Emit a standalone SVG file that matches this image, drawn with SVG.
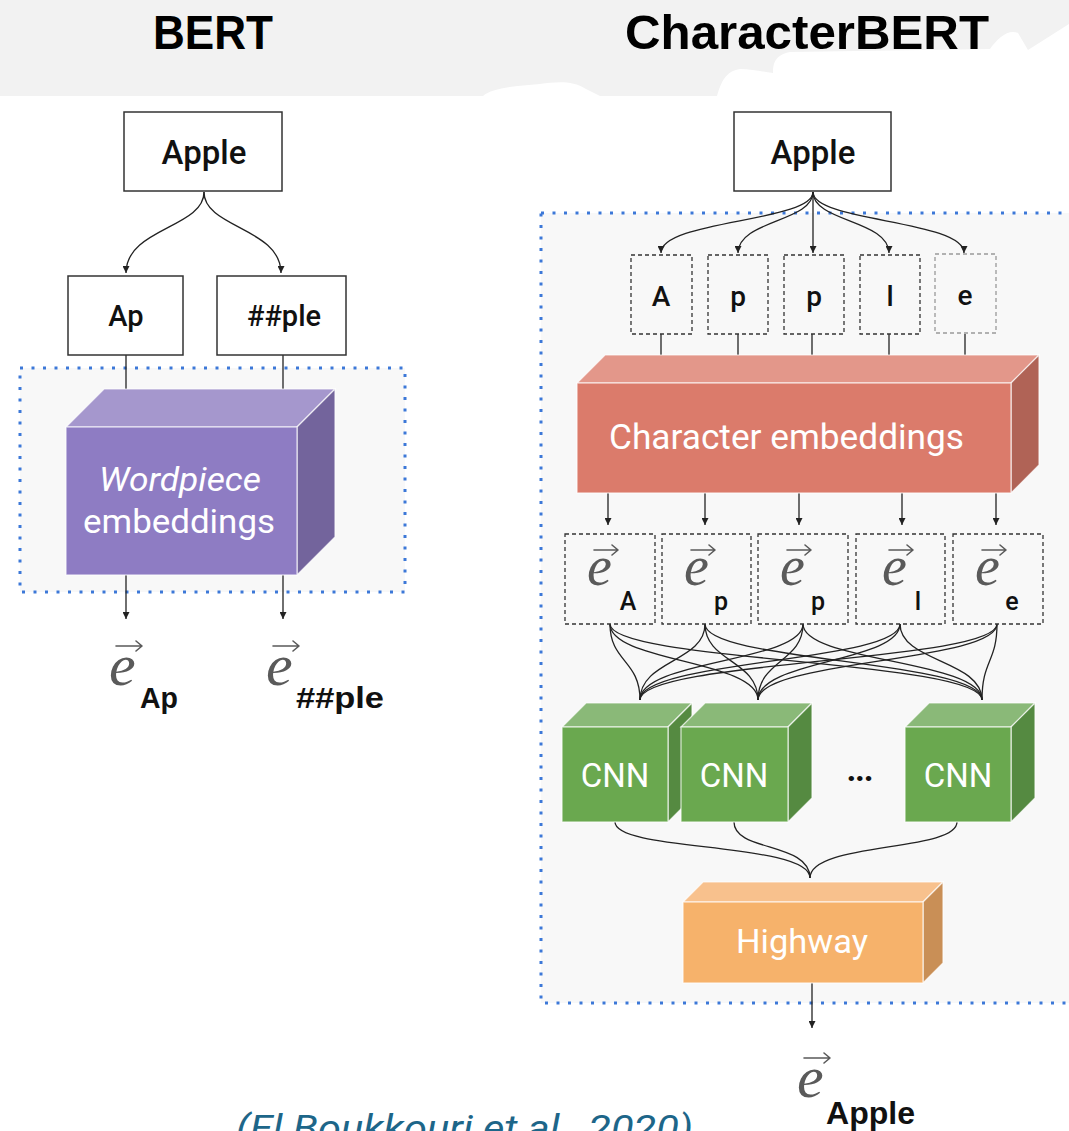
<svg xmlns="http://www.w3.org/2000/svg" width="1069" height="1131" viewBox="0 0 1069 1131">
  <defs>
    <marker id="ah" viewBox="0 0 10 10" refX="10" refY="5" markerWidth="7" markerHeight="7" markerUnits="userSpaceOnUse" orient="auto">
      <path d="M0,0 L10,5 L0,10 z" fill="#222"/>
    </marker>
    <style>
      .title { font-family: "Liberation Sans", Arial, sans-serif; font-weight: 700; font-size: 48px; fill: #000; }
      .box { fill: #fff; stroke: #333; stroke-width: 1.5; }
      .dash { fill: none; stroke: #333; stroke-width: 1.3; stroke-dasharray: 4 3; }
      .dash-light { fill: none; stroke: #999; stroke-width: 1.3; stroke-dasharray: 4 3; }
      .zone { fill: #f8f8f8; stroke: #3c78d8; stroke-width: 3; stroke-dasharray: 3 8.5; }
      .lbl { font-family: Roboto, "Liberation Sans", sans-serif; font-weight: 500; fill: #111; text-anchor: middle; }
      .wht { font-family: Roboto, "Liberation Sans", sans-serif; fill: #fff; }
      .sub { font-family: "Liberation Sans", Arial, sans-serif; font-weight: 700; fill: #111; }
      .vec { font-family: "Liberation Serif", "DejaVu Serif", serif; font-style: italic; fill: #5a5a5a; }
      .varr { fill: none; stroke: #5a5a5a; stroke-width: 1.6; stroke-linecap: round; stroke-linejoin: round; }
      .edge { fill: none; stroke: #222; stroke-width: 1.3; }
      .face { stroke: #fff; stroke-width: 1.2; stroke-opacity: 0.75; }
    </style>
  </defs>

  <!-- header band with torn lower edge -->
  <rect x="0" y="0" width="1069" height="96" fill="#f2f2f2"/>
  <path d="M483,96 C492,88 515,86 540,84 C556,82 572,80 586,89 L600,96 Z" fill="#fff"/>
  <path d="M717,96 C721,82 726,71 740,69 C752,69 764,72 773,73 C773,62 776,55 790,52 L990,49 C998,38 1008,29 1018,33 L1028,50 L1069,24 L1069,96 Z" fill="#fff"/>

  <text class="title" x="213" y="49" text-anchor="middle" textLength="120" lengthAdjust="spacingAndGlyphs">BERT</text>
  <text class="title" x="807" y="49" text-anchor="middle" textLength="364" lengthAdjust="spacingAndGlyphs">CharacterBERT</text>

  <!-- dotted module regions -->
  <rect class="zone" x="20" y="368" width="385" height="224"/>
  <rect class="zone" x="541" y="213" width="540" height="790"/>

  <!-- connectors -->
  <g id="connectors">
    <!-- BERT -->
    <path class="edge" d="M204,192 C204,228 126,228 126,273" marker-end="url(#ah)"/>
    <path class="edge" d="M204,192 C204,228 281,228 281,273" marker-end="url(#ah)"/>
    <line class="edge" x1="126" y1="355" x2="126" y2="389"/>
    <line class="edge" x1="283" y1="355" x2="283" y2="389"/>
    <line class="edge" x1="126" y1="575" x2="126" y2="619" marker-end="url(#ah)"/>
    <line class="edge" x1="283" y1="575" x2="283" y2="619" marker-end="url(#ah)"/>

    <!-- word to characters -->
    <path class="edge" d="M813,192 C813,222 661,220 661,253" marker-end="url(#ah)"/>
    <path class="edge" d="M813,192 C813,222 738,220 738,253" marker-end="url(#ah)"/>
    <path class="edge" d="M813,192 L813,253" marker-end="url(#ah)"/>
    <path class="edge" d="M813,192 C813,222 889,220 889,253" marker-end="url(#ah)"/>
    <path class="edge" d="M813,192 C813,222 964,220 964,253" marker-end="url(#ah)"/>

    <line class="edge" x1="661" y1="334" x2="661" y2="355"/>
    <line class="edge" x1="738" y1="334" x2="738" y2="355"/>
    <line class="edge" x1="812" y1="334" x2="812" y2="355"/>
    <line class="edge" x1="889" y1="334" x2="889" y2="355"/>
    <line class="edge" x1="965" y1="334" x2="965" y2="355"/>

    <line class="edge" x1="608" y1="493" x2="608" y2="525" marker-end="url(#ah)"/>
    <line class="edge" x1="705" y1="493" x2="705" y2="525" marker-end="url(#ah)"/>
    <line class="edge" x1="799" y1="493" x2="799" y2="525" marker-end="url(#ah)"/>
    <line class="edge" x1="902" y1="493" x2="902" y2="525" marker-end="url(#ah)"/>
    <line class="edge" x1="996" y1="493" x2="996" y2="525" marker-end="url(#ah)"/>

    <!-- every character vector feeds every CNN -->
    <path class="edge" d="M610,624 C610,662 640,660 640,700"/>
    <path class="edge" d="M610,624 C610,662 758,660 758,700"/>
    <path class="edge" d="M610,624 C610,662 982,660 982,700"/>
    <path class="edge" d="M705,624 C705,662 640,660 640,700"/>
    <path class="edge" d="M705,624 C705,662 758,660 758,700"/>
    <path class="edge" d="M705,624 C705,662 982,660 982,700"/>
    <path class="edge" d="M803,624 C803,662 640,660 640,700"/>
    <path class="edge" d="M803,624 C803,662 758,660 758,700"/>
    <path class="edge" d="M803,624 C803,662 982,660 982,700"/>
    <path class="edge" d="M900,624 C900,662 640,660 640,700"/>
    <path class="edge" d="M900,624 C900,662 758,660 758,700"/>
    <path class="edge" d="M900,624 C900,662 982,660 982,700"/>
    <path class="edge" d="M997,624 C997,662 640,660 640,700"/>
    <path class="edge" d="M997,624 C997,662 758,660 758,700"/>
    <path class="edge" d="M997,624 C997,662 982,660 982,700"/>

    <!-- CNNs to highway -->
    <path class="edge" d="M615,822 C615,852 810,842 810,878"/>
    <path class="edge" d="M734,822 C734,852 810,842 810,878"/>
    <path class="edge" d="M957,822 C957,852 810,842 810,878"/>

    <line class="edge" x1="812" y1="983" x2="812" y2="1028" marker-end="url(#ah)"/>
  </g>

  <!-- BERT nodes -->
  <g id="bert-word">
    <rect class="box" x="124" y="112" width="158" height="79"/>
    <text class="lbl" x="204" y="164" font-size="33">Apple</text>
  </g>
  <g id="bert-piece-ap">
    <rect class="box" x="68" y="276" width="115" height="79"/>
    <text class="lbl" x="126" y="326" font-size="29">Ap</text>
  </g>
  <g id="bert-piece-ple">
    <rect class="box" x="217" y="276" width="129" height="79"/>
    <text class="lbl" x="284" y="326" font-size="29">##ple</text>
  </g>
  <g id="wordpiece-embeddings">
    <polygon class="face" points="66,427 104,389 335,389 297,427" fill="#a597cd"/>
    <polygon class="face" points="297,427 335,389 335,537 297,575" fill="#73649c"/>
    <rect class="face" x="66" y="427" width="231" height="148" fill="#8e7cc3"/>
    <text class="wht" x="180" y="491" font-size="34" font-style="italic" text-anchor="middle" textLength="162" lengthAdjust="spacingAndGlyphs">Wordpiece</text>
    <text class="wht" x="179" y="533" font-size="34" text-anchor="middle" textLength="192" lengthAdjust="spacingAndGlyphs">embeddings</text>
  </g>
  <g id="bert-out-ap">
    <text class="vec" x="109" y="685" font-size="60">e</text>
    <path class="varr" d="M116,646 L142,646 M136,641 L142,646 L136,651"/>
    <text class="sub" x="140" y="708" font-size="29" textLength="38" lengthAdjust="spacingAndGlyphs">Ap</text>
  </g>
  <g id="bert-out-ple">
    <text class="vec" x="266" y="685" font-size="60">e</text>
    <path class="varr" d="M273,646 L299,646 M293,641 L299,646 L293,651"/>
    <text class="sub" x="296" y="708" font-size="30" textLength="88" lengthAdjust="spacingAndGlyphs">##ple</text>
  </g>

  <!-- CharacterBERT nodes -->
  <g id="cb-word">
    <rect class="box" x="734" y="112" width="157" height="79"/>
    <text class="lbl" x="813" y="164" font-size="33">Apple</text>
  </g>
  <g id="char-A">
    <rect class="dash" x="631" y="255" width="61" height="79"/>
    <text class="lbl" x="661" y="306" font-size="28">A</text>
  </g>
  <g id="char-p1">
    <rect class="dash" x="708" y="255" width="60" height="79"/>
    <text class="lbl" x="738" y="306" font-size="28">p</text>
  </g>
  <g id="char-p2">
    <rect class="dash" x="784" y="255" width="60" height="79"/>
    <text class="lbl" x="814" y="306" font-size="28">p</text>
  </g>
  <g id="char-l">
    <rect class="dash" x="860" y="255" width="60" height="79"/>
    <text class="lbl" x="890" y="306" font-size="28">l</text>
  </g>
  <g id="char-e">
    <rect class="dash-light" x="935" y="254" width="61" height="79"/>
    <text class="lbl" x="965" y="305" font-size="28">e</text>
  </g>

  <g id="character-embeddings">
    <polygon class="face" points="577,383 605,355 1039,355 1011,383" fill="#e3978a"/>
    <polygon class="face" points="1011,383 1039,355 1039,465 1011,493" fill="#b06356"/>
    <rect class="face" x="577" y="383" width="434" height="110" fill="#db7b6b"/>
    <text class="wht" x="609" y="449" font-size="35" textLength="355" lengthAdjust="spacingAndGlyphs">Character embeddings</text>
  </g>

  <g id="vec-A">
    <rect class="dash" x="565" y="534" width="90" height="90"/>
    <text class="vec" x="587" y="585" font-size="56">e</text>
    <path class="varr" d="M594,550 L618,550 M612,545 L618,550 L612,555"/>
    <text class="lbl" x="628" y="610" font-size="25">A</text>
  </g>
  <g id="vec-p1">
    <rect class="dash" x="662" y="534" width="89" height="90"/>
    <text class="vec" x="684" y="585" font-size="56">e</text>
    <path class="varr" d="M691,550 L715,550 M709,545 L715,550 L709,555"/>
    <text class="lbl" x="721" y="610" font-size="25">p</text>
  </g>
  <g id="vec-p2">
    <rect class="dash" x="758" y="534" width="90" height="90"/>
    <text class="vec" x="780" y="585" font-size="56">e</text>
    <path class="varr" d="M787,550 L811,550 M805,545 L811,550 L805,555"/>
    <text class="lbl" x="818" y="610" font-size="25">p</text>
  </g>
  <g id="vec-l">
    <rect class="dash" x="856" y="534" width="89" height="90"/>
    <text class="vec" x="882" y="585" font-size="56">e</text>
    <path class="varr" d="M889,550 L913,550 M907,545 L913,550 L907,555"/>
    <text class="lbl" x="918" y="610" font-size="25">l</text>
  </g>
  <g id="vec-e">
    <rect class="dash" x="953" y="534" width="90" height="90"/>
    <text class="vec" x="975" y="585" font-size="56">e</text>
    <path class="varr" d="M982,550 L1006,550 M1000,545 L1006,550 L1000,555"/>
    <text class="lbl" x="1012" y="610" font-size="25">e</text>
  </g>

  <g id="cnn-1">
    <polygon class="face" points="562,727 586,703 692,703 668,727" fill="#8ab978"/>
    <polygon class="face" points="668,727 692,703 692,798 668,822" fill="#558a41"/>
    <rect class="face" x="562" y="727" width="106" height="95" fill="#6aa84f"/>
    <text class="wht" x="615" y="787" font-size="33" text-anchor="middle">CNN</text>
  </g>
  <g id="cnn-2">
    <polygon class="face" points="681,727 705,703 812,703 788,727" fill="#8ab978"/>
    <polygon class="face" points="788,727 812,703 812,798 788,822" fill="#558a41"/>
    <rect class="face" x="681" y="727" width="107" height="95" fill="#6aa84f"/>
    <text class="wht" x="734" y="787" font-size="33" text-anchor="middle">CNN</text>
  </g>
  <g id="cnn-ellipsis">
    <text x="860" y="781" font-family="Roboto, 'Liberation Sans', sans-serif" font-weight="700" font-size="34" fill="#111" text-anchor="middle" textLength="27" lengthAdjust="spacing">...</text>
  </g>
  <g id="cnn-n">
    <polygon class="face" points="905,727 929,703 1035,703 1011,727" fill="#8ab978"/>
    <polygon class="face" points="1011,727 1035,703 1035,798 1011,822" fill="#558a41"/>
    <rect class="face" x="905" y="727" width="106" height="95" fill="#6aa84f"/>
    <text class="wht" x="958" y="787" font-size="33" text-anchor="middle">CNN</text>
  </g>

  <g id="highway">
    <polygon class="face" points="683,902 703,882 943,882 923,902" fill="#f8c18d"/>
    <polygon class="face" points="923,902 943,882 943,963 923,983" fill="#c98f56"/>
    <rect class="face" x="683" y="902" width="240" height="81" fill="#f6b26b"/>
    <text class="wht" x="802" y="953" font-size="34" text-anchor="middle" textLength="132" lengthAdjust="spacingAndGlyphs">Highway</text>
  </g>

  <g id="cb-out">
    <text class="vec" x="797" y="1097" font-size="60">e</text>
    <path class="varr" d="M804,1058 L830,1058 M824,1053 L830,1058 L824,1063"/>
    <text class="sub" x="826" y="1124" font-size="31" textLength="89" lengthAdjust="spacingAndGlyphs">Apple</text>
  </g>

  <text x="236" y="1141" font-family="Roboto, 'Liberation Sans', sans-serif" font-style="italic" font-size="36" fill="#1d6689" textLength="457" lengthAdjust="spacingAndGlyphs">(El Boukkouri et al., 2020)</text>
</svg>
